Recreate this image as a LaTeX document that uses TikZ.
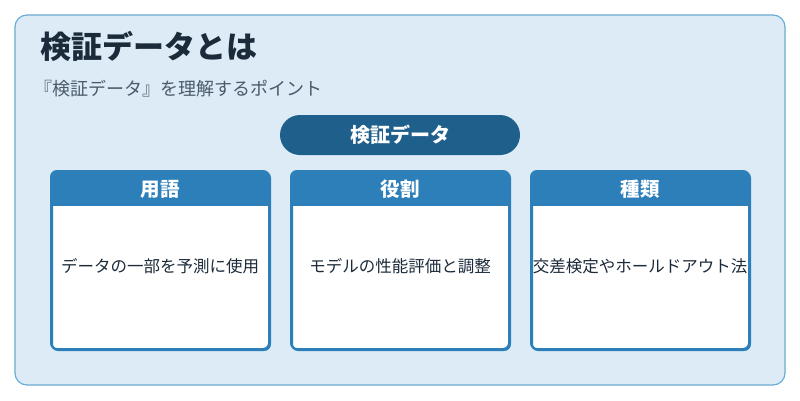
\documentclass[tikz,border=0pt]{standalone}
\usepackage{fontspec}
\setmainfont{Noto Sans CJK JP}
\definecolor{bgc}{HTML}{DDEBF6}
\definecolor{bdc}{HTML}{6AAAD4}
\definecolor{pill}{HTML}{1F5F8B}
\definecolor{hdr}{HTML}{2C7FB8}
\definecolor{ttl}{HTML}{1C2B3A}
\definecolor{sub}{HTML}{4A5A6A}
\tikzset{x=1pt,y=-1pt,
 card/.style={draw=hdr,line width=2pt,fill=white,rounded corners=6pt,minimum width=218pt,minimum height=178pt,anchor=north west},
 hdrtxt/.style={font=\bfseries\fontsize{19.5}{22}\selectfont,text=white},
 bodytxt/.style={font=\fontsize{16.5}{19}\selectfont,text=ttl}}
\begin{document}
\begin{tikzpicture}
\useasboundingbox (0,0) rectangle (800,400);
\fill[white] (0,0) rectangle (800,400);
\draw[bdc,fill=bgc,line width=1.2pt,rounded corners=12pt] (15,15) rectangle (785,385);
\node[anchor=west,text=ttl,font=\bfseries\fontsize{31}{36}\selectfont,inner sep=0pt] (title) at (40,46) {検証データとは};
\node[anchor=west,text=sub,font=\fontsize{18}{21}\selectfont,inner sep=0pt] (subt) at (34,89) {『検証データ』を理解するポイント};
\node[fill=pill,rounded corners=20pt,minimum width=240pt,minimum height=40pt,text=white,font=\bfseries\fontsize{20}{23}\selectfont] (p) at (400,135) {検証データ};
\foreach \x/\h/\b [count=\i] in {50/用語/データの一部を予測に使用,290/役割/モデルの性能評価と調整,530/種類/交差検定やホールドアウト法}{
 \node[card] (c\i) at (\x+1,171) {};
 \begin{scope}
 \clip[rounded corners=6pt] (\x+1,171) rectangle (\x+219,349);
 \fill[hdr] (\x,170) rectangle (\x+220,206);
 \end{scope}
 \draw[hdr,line width=2pt,rounded corners=6pt] (\x+1,171) rectangle (\x+219,349);
 \node[hdrtxt] (h\i) at (\x+110,189) {\h};
 \node[bodytxt,inner sep=0pt] (b\i) at (\x+110,266) {\b};
}
\end{tikzpicture}
\end{document}
